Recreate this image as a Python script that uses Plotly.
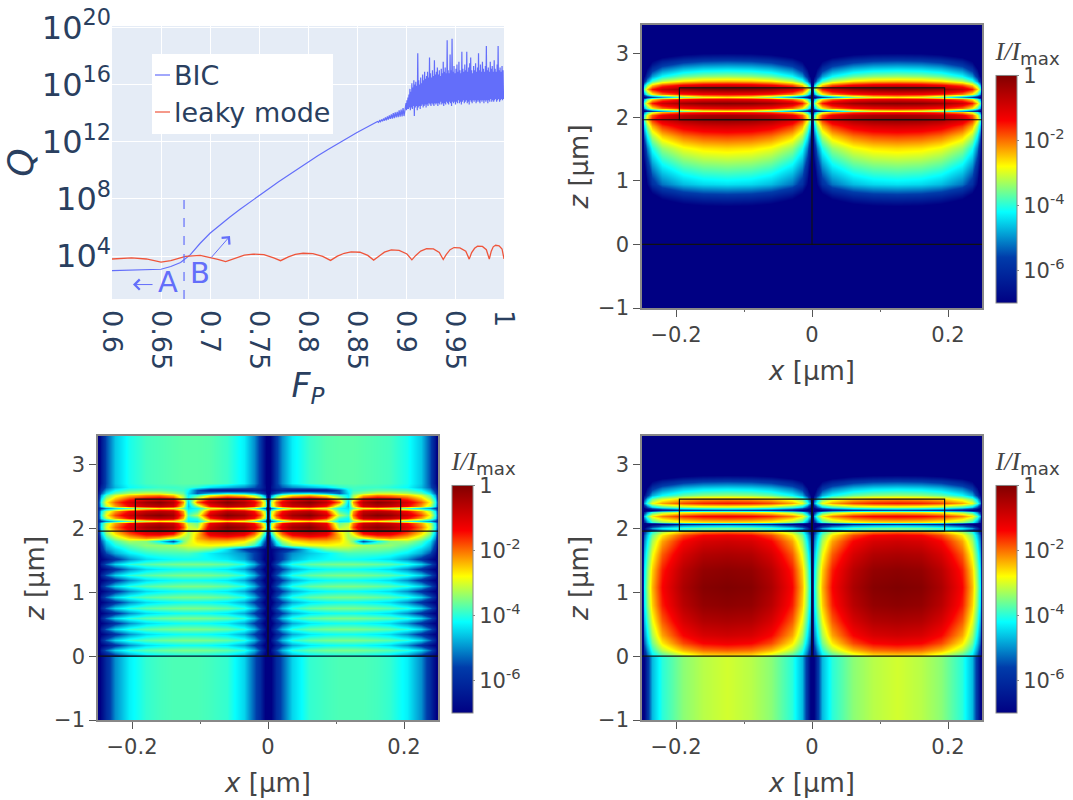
import plotly.graph_objects as go

# ---------- Q chart ----------
bic_fp = [0.6,0.62,0.64,0.65,0.66,0.67,0.68,0.69,0.70,0.71,0.72,0.73,0.74,0.75,0.76,0.77,0.78,0.79,0.80,0.81,0.82,0.83,0.84,0.85,0.86,0.87]
bic_logq = [2.98,3.0,3.03,3.08,3.27,3.55,4.1,4.9,5.6,6.17,6.72,7.24,7.75,8.24,8.72,9.2,9.67,10.13,10.58,11.02,11.45,11.87,12.27,12.65,13.02,13.35]
bic_onset_fp = [0.871,0.872,0.873,0.874,0.875,0.876,0.877,0.878,0.879,0.88,0.881,0.882,0.883,0.884,0.885,0.886,0.887,0.888,0.889,0.89,0.891,0.892,0.893,0.894,0.895,0.896,0.897,0.898,0.899]
bic_onset_logq = [13.42,13.36,13.48,13.4,13.55,13.44,13.62,13.48,13.7,13.5,13.78,13.55,13.85,13.6,13.92,13.62,14.0,13.65,14.05,13.7,14.1,13.72,14.2,13.75,14.25,13.78,14.35,13.8,14.45]
bic_noise_hi = [14.7,14.9,15.1,15.3,15.7,15.5,16.1,15.8,16.3,16.0,
 16.2,15.9,18.2,16.3,16.0,16.5,16.1,16.7,16.3,16.9,
 16.4,16.6,16.9,16.5,17.9,16.8,16.5,17.0,16.6,17.7,
 16.7,16.9,17.2,16.7,17.0,16.6,17.1,16.8,17.6,16.9,
 17.2,16.8,19.1,17.0,16.8,18.1,17.0,19.2,16.9,17.3,
 16.8,17.1,17.4,16.9,17.6,17.0,16.8,18.3,17.1,16.9,
 17.4,17.0,18.3,16.9,17.2,17.5,17.9,17.0,16.8,17.3,
 17.0,17.5,16.9,17.2,18.2,17.0,17.4,16.9,17.6,17.1,
 16.9,17.3,18.7,17.0,17.2,16.9,17.6,17.1,17.3,16.9,
 17.7,17.1,16.9,17.4,18.7,17.0,17.2,16.9,17.3,17.0]
bic_noise_lo = [14.2,14.3,14.3,14.4,14.2,14.4,14.3,14.5,13.8,14.4,
 14.5,14.2,14.4,14.5,14.3,14.5,14.6,14.4,14.5,14.6,
 14.4,14.6,14.5,14.7,14.6,14.5,14.7,14.6,14.5,14.7,
 14.6,14.7,14.5,14.7,14.6,14.8,14.6,14.7,14.5,14.7,
 14.6,14.8,14.7,14.6,14.8,14.7,14.5,14.8,14.7,14.8,
 14.6,14.8,14.7,14.9,14.7,14.8,14.6,14.8,14.9,14.7,
 14.8,14.9,14.7,14.8,14.6,14.9,14.8,14.7,14.9,14.8,
 14.9,14.7,14.8,14.9,14.8,14.7,14.9,14.8,14.9,14.7,
 14.9,14.8,14.9,14.7,14.9,14.8,15.0,14.8,14.9,14.8,
 14.9,15.0,14.8,14.9,15.0,14.8,14.9,15.0,14.9,15.0]
leaky_fp = [0.6,0.61,0.62,0.635,0.65,0.66,0.675,0.69,0.70,0.708,0.716,0.725,0.735,0.744,0.755,0.765,0.772,0.78,0.787,0.795,0.805,0.815,0.823,
 0.83,0.837,0.844,0.853,0.861,0.867,0.872,0.878,0.885,0.893,0.901,0.906,0.91,0.915,0.921,0.928,0.934,0.938,0.941,0.945,0.949,0.955,0.961,0.9645,
 0.967,0.97,0.973,0.978,0.982,0.985,0.987,0.989,0.9914,0.995,0.998,1.0]
leaky_logq = [3.8,3.85,3.88,3.8,3.58,3.68,3.98,4.05,3.92,3.78,3.62,3.85,4.07,4.14,4.1,3.88,3.68,3.95,4.12,4.2,4.17,3.98,3.7,
 4.0,4.2,4.3,4.27,4.05,3.72,3.98,4.28,4.43,4.4,4.15,3.74,4.05,4.35,4.52,4.5,4.25,3.76,4.1,4.45,4.6,4.58,4.35,3.79,
 4.25,4.55,4.7,4.68,4.45,3.79,4.35,4.65,4.76,4.72,4.5,3.8]

# ---------- field maps, values are log10(I/Imax) ----------
lobe_d = [0,0.003,0.007,0.015,0.03,0.06,0.09,0.125]

p1_z = [-1,0.5,0.6,0.95,1.24,1.52,1.7,1.86,1.97,2.03,2.075,2.1,2.14,2.22,2.28,2.32,2.36,2.44,2.5,2.57,2.65,2.78,2.88,2.99,3.05,3.45]
p1_rows = [
 [-9,-9,-9,-9,-9,-9,-9,-9],
 [-9,-9,-9,-9,-9,-9,-9,-9],
 [-9,-9,-9,-8.5,-7.8,-7.28,-7.07,-7],
 [-9,-8,-6.9,-5.9,-5.2,-4.68,-4.47,-4.4],
 [-9,-7.1,-6,-5,-4.3,-3.78,-3.57,-3.5],
 [-9,-6.2,-5.1,-4.1,-3.4,-2.88,-2.67,-2.6],
 [-9,-5.35,-4.25,-3.25,-2.55,-2.03,-1.82,-1.75],
 [-9,-4.5,-3.4,-2.4,-1.7,-1.18,-0.97,-0.9],
 [-9,-3.7,-2.6,-1.6,-0.9,-0.38,-0.17,-0.1],
 [-9,-4,-2.9,-1.9,-1.2,-0.68,-0.47,-0.4],
 [-9,-5.2,-4.1,-3.1,-2.4,-1.88,-1.67,-1.6],
 [-9,-7,-6.3,-5.6,-4.8,-3.6,-3,-2.8],
 [-9,-4.8,-3.7,-2.7,-2,-1.48,-1.27,-1.2],
 [-9,-3.65,-2.55,-1.55,-0.85,-0.33,-0.12,-0.05],
 [-9,-4.8,-3.7,-2.7,-2,-1.48,-1.27,-1.2],
 [-9,-7,-6.3,-5.6,-4.8,-3.6,-2.9,-2.7],
 [-9,-4.9,-3.8,-2.8,-2.1,-1.58,-1.37,-1.3],
 [-9,-3.6,-2.5,-1.5,-0.8,-0.28,-0.07,0],
 [-9,-4.6,-3.5,-2.5,-1.8,-1.28,-1.07,-1],
 [-9,-6,-4.9,-3.9,-3.2,-2.68,-2.47,-2.4],
 [-9,-7,-5.9,-4.9,-4.2,-3.68,-3.47,-3.4],
 [-9,-8.1,-7,-6,-5.3,-4.78,-4.57,-4.5],
 [-9,-9,-8,-7,-6.3,-5.78,-5.57,-5.5],
 [-9,-9,-9,-8.3,-7.6,-7.08,-6.87,-6.8],
 [-9,-9,-9,-9,-8.8,-8.28,-8.07,-8],
 [-9,-9,-9,-9,-9,-9,-9,-9],
]

p3_z = [-1,-0.02,0,0.1,0.2,0.33,0.55,0.8,1.08,1.35,1.6,1.8,1.9,1.95,1.965,1.98,2.01,2.05,2.07,2.11,2.19,2.26,2.295,2.33,2.4,2.47,2.53,2.63,2.74,2.84,2.9,3.45]
p3_rows = [
 [-9,-6.9,-5.9,-4.7,-4.0,-3.45,-3.2,-3.05],
 [-9,-6.9,-5.9,-4.7,-4.0,-3.45,-3.2,-3.05],
 [-9,-6.2,-5.4,-4.4,-3.9,-3.2,-2.75,-2.7],
 [-8.5,-5.8,-5,-4,-3.2,-2.4,-2,-1.9],
 [-8.5,-5.4,-4.6,-3.6,-2.7,-1.8,-1.4,-1.3],
 [-8.5,-5.1,-4.3,-3.3,-2.3,-1.4,-1,-0.9],
 [-8.3,-4.7,-3.9,-2.9,-1.9,-1,-0.58,-0.5],
 [-8,-4.35,-3.55,-2.55,-1.55,-0.65,-0.23,-0.15],
 [-8,-4.2,-3.4,-2.4,-1.4,-0.5,-0.08,0],
 [-8,-4.35,-3.55,-2.55,-1.55,-0.65,-0.23,-0.15],
 [-8.3,-4.7,-3.9,-2.9,-1.9,-1,-0.58,-0.5],
 [-8.5,-5.1,-4.3,-3.3,-2.3,-1.4,-1,-0.9],
 [-8.5,-5.4,-4.6,-3.6,-2.7,-1.8,-1.4,-1.3],
 [-8.5,-5.8,-5,-4,-3.2,-2.4,-2,-1.9],
 [-8.5,-6,-5.4,-4.6,-3.6,-2.7,-2.3,-2.2],
 [-9,-7,-6.5,-5.8,-5,-4.2,-3.8,-3.7],
 [-9,-6.9,-5.9,-4.9,-4.3,-3.78,-3.57,-3.5],
 [-9,-8,-7.4,-6.6,-5.8,-5.1,-4.9,-4.8],
 [-9,-8.5,-8,-7.5,-7,-6.3,-6.1,-6],
 [-9,-6,-5,-4,-3.4,-2.88,-2.67,-2.6],
 [-9,-4.7,-3.7,-2.7,-2.1,-1.58,-1.37,-1.3],
 [-9,-6,-5,-4,-3.4,-2.88,-2.67,-2.6],
 [-9,-8,-7.6,-7,-6.3,-5.8,-5.6,-5.5],
 [-9,-6.5,-5.5,-4.5,-3.9,-3.38,-3.17,-3.1],
 [-9,-4.9,-3.9,-2.9,-2.3,-1.78,-1.57,-1.5],
 [-9,-5.6,-4.6,-3.6,-3,-2.48,-2.27,-2.2],
 [-9,-6.8,-5.8,-4.8,-4.2,-3.68,-3.47,-3.4],
 [-9,-7.8,-6.8,-5.8,-5.2,-4.68,-4.47,-4.4],
 [-9,-9,-8,-7,-6.4,-5.88,-5.67,-5.6],
 [-9,-9,-9,-8.4,-7.8,-7.28,-7.07,-7],
 [-9,-9,-9,-9,-9,-9,-9,-9],
 [-9,-9,-9,-9,-9,-9,-9,-9],
]

p2_x = [-0.25,-0.245,-0.238,-0.225,-0.205,-0.18,-0.16,-0.14,-0.125,-0.117,-0.105,-0.085,-0.06,-0.035,-0.02,-0.012,-0.005,0]
p2_bot = [-7.5,-6.8,-6.0,-5.0,-4.3,-3.95,-3.85,-3.8,-3.8,-3.8,-3.8,-3.85,-3.95,-4.5,-5.4,-6.0,-7.0,-8]
p2_hi = [-7.5,-6.2,-5.3,-4.5,-4.0,-3.75,-3.65,-3.58,-3.55,-3.55,-3.55,-3.58,-3.7,-4.0,-4.7,-5.5,-6.6,-8]
p2_lo = [-7.5,-7,-6.6,-5.8,-5.0,-4.45,-4.3,-4.2,-4.15,-4.15,-4.15,-4.2,-4.35,-4.8,-5.6,-6.3,-7.2,-8]
p2_top = [-7.5,-6.5,-5.5,-4.6,-4.1,-3.85,-3.8,-3.75,-3.72,-3.72,-3.72,-3.75,-3.9,-4.3,-5.0,-5.7,-6.8,-8]
p2_z = [-1,-0.02,0,0.09,0.175,0.26,0.345,0.43,0.515,0.6,0.68,0.76,0.85,0.93,1.02,1.1,1.19,1.27,1.36,1.44,1.52,
        1.62,1.68,1.74,1.8,1.85,1.92,1.97,2.02,2.08,2.125,2.17,2.22,2.275,2.315,2.355,2.42,2.47,2.52,2.56,2.6,2.65,2.72,3.45]
p2_rows = [p2_bot,p2_bot,p2_lo,p2_hi,p2_lo,p2_hi,p2_lo,p2_hi,p2_lo,p2_hi,p2_lo,p2_hi,p2_lo,p2_hi,p2_lo,p2_hi,p2_lo,p2_hi,p2_lo,p2_hi,p2_lo,
 [-7.5,-6.5,-5.5,-4.8,-4.3,-4.0,-3.9,-3.85,-3.85,-3.85,-4.0,-4.3,-4.6,-5.0,-5.6,-6.3,-7,-8],
 [-7.5,-6,-5,-4.5,-4,-3.7,-3.6,-3.6,-3.5,-3.4,-3.4,-3.6,-4.4,-5.6,-6.2,-6.6,-7,-8],
 [-7.2,-5.7,-4.7,-4.1,-3.7,-3.4,-3.4,-3.3,-3.1,-3.0,-2.9,-2.8,-2.9,-3.2,-3.9,-4.7,-6,-8],
 [-7,-5.4,-4.4,-3.8,-3.3,-3.5,-4.2,-5.5,-3.6,-3.1,-2.6,-2.4,-2.4,-2.7,-3.3,-4.2,-5.5,-8],
 [-6.8,-5,-4,-3.3,-2.6,-2.2,-2.4,-3,-3.4,-3.3,-2.4,-1.9,-1.8,-2.1,-2.8,-3.6,-5,-8],
 [-6.5,-4.6,-3.5,-2.7,-1.9,-1.3,-1.2,-1.6,-2.8,-3.3,-2.5,-1.2,-0.9,-1.2,-2,-2.9,-4.2,-7.5],
 [-6.2,-4.4,-3.2,-2.3,-1.4,-0.7,-0.5,-0.9,-2.2,-3.2,-2.8,-0.8,-0.3,-0.7,-1.5,-2.4,-3.6,-7.5],
 [-6,-4.2,-3,-2,-1.1,-0.4,-0.15,-0.5,-1.8,-3.0,-3.3,-0.9,-0.05,-0.4,-1.1,-1.8,-3,-7],
 [-6,-4.3,-3.2,-2.3,-1.4,-0.85,-0.65,-0.9,-2.1,-3.3,-3.6,-1.3,-0.6,-0.9,-1.5,-2.3,-3.3,-7],
 [-6.3,-5.6,-5,-4.4,-3.8,-3.1,-2.7,-2.9,-3.4,-4.3,-4.4,-3.0,-2.6,-2.9,-3.6,-4.4,-5.2,-7.5],
 [-6,-4.3,-3.2,-2.3,-1.4,-0.8,-0.65,-0.8,-2.4,-4.2,-3.9,-1.6,-0.65,-0.9,-1.5,-2.3,-3.3,-7],
 [-6,-4,-2.8,-1.8,-0.9,-0.25,-0.05,-0.4,-2.0,-3.8,-3.2,-0.9,-0.05,-0.4,-1.1,-1.8,-3,-7],
 [-6,-4.3,-3.2,-2.3,-1.4,-0.8,-0.65,-0.8,-2.3,-4.2,-3.8,-1.5,-0.65,-0.9,-1.5,-2.3,-3.3,-7],
 [-6.3,-5.6,-5,-4.4,-3.8,-3.1,-2.7,-2.9,-3.6,-4.4,-4.2,-3.0,-2.6,-2.9,-3.6,-4.4,-5.2,-7.5],
 [-6,-4.3,-3.2,-2.3,-1.4,-0.85,-0.65,-1.0,-2.8,-4.6,-3.4,-1.5,-0.65,-0.9,-1.5,-2.3,-3.3,-7],
 [-6,-4,-2.8,-1.9,-1,-0.35,-0.1,-0.6,-2.2,-4.5,-2,-0.7,-0.05,-0.5,-1.2,-2,-3.2,-7],
 [-6.2,-4.3,-3.2,-2.4,-1.6,-1.1,-0.9,-1.3,-3,-4.2,-2.8,-1.4,-0.8,-1.2,-1.9,-2.7,-3.8,-7.5],
 [-6.5,-4.8,-3.8,-3,-2.5,-2.2,-2.1,-2.5,-3.4,-4.3,-3.9,-2.9,-2.4,-2.7,-3.3,-4,-5,-7.5],
 [-6.7,-5.4,-4.4,-3.7,-3.3,-3.1,-3.1,-3.4,-3.7,-4.4,-5.4,-4.8,-4.3,-4.5,-4.9,-5.5,-6.2,-8],
 [-7,-5.8,-4.9,-4.2,-3.8,-3.7,-3.7,-3.8,-3.9,-4.2,-5.4,-6.2,-6.4,-6.3,-6.2,-6.4,-6.8,-8],
 [-7.2,-6.2,-5.4,-4.7,-4.2,-4,-3.9,-3.9,-3.85,-3.9,-4.0,-4.4,-4.7,-5,-5.4,-5.9,-6.6,-8],
 p2_top,p2_top]

cb_ticks = [-6,-4,-2,0]
cb_labels = ['10<sup>-6</sup>','10<sup>-4</sup>','10<sup>-2</sup>','1']
x_ticks = [-0.2,0,0.2]
x_labels = ['\u22120.2','0','0.2']
x_minor = [-0.1,0.1]
z_ticks = [-1,0,1,2,3]
fp_ticks = [0.6,0.65,0.7,0.75,0.8,0.85,0.9,0.95,1]
fp_labels = ['0.6','0.65','0.7','0.75','0.8','0.85','0.9','0.95','1']
q_ticks = [1e4,1e8,1e12,1e16,1e20]
q_labels = ['10<sup>4</sup>','10<sup>8</sup>','10<sup>12</sup>','10<sup>16</sup>','10<sup>20</sup>']

W, H = 1073, 800
FONT = 'DejaVu Sans'
BLUE, RED = '#636efa', '#EF553B'
GREY = '#444444'
def fx(p): return p / W
def fy(p): return 1 - p / H

def mirror_x(xs): return list(xs) + [-v for v in reversed(xs[:-1])]
def mirror_row(r): return list(r) + list(reversed(r[:-1]))
lobe_half = [-0.25 + d for d in lobe_d] + [-d for d in reversed(lobe_d[:-1])]
lobe_x = mirror_x(lobe_half)
def lobe_grid(rows): return [mirror_row(mirror_row(r)) for r in rows]

fig = go.Figure()

bic_x = list(bic_fp) + list(bic_onset_fp)
bic_y = list(bic_logq) + list(bic_onset_logq)
for i, (h, l) in enumerate(zip(bic_noise_hi, bic_noise_lo)):
    bic_x += [0.9 + 0.001 * i, 0.9005 + 0.001 * i]
    bic_y += [h, l]
fig.add_trace(go.Scatter(x=bic_x, y=[10 ** v for v in bic_y], mode='lines', name='BIC',
                         line=dict(color=BLUE, width=1.2), xaxis='x', yaxis='y', showlegend=False))
fig.add_trace(go.Scatter(x=leaky_fp, y=[10 ** v for v in leaky_logq], mode='lines', name='leaky mode',
                         line=dict(color=RED, width=1.3), xaxis='x', yaxis='y', showlegend=False))
fig.add_trace(go.Scatter(x=[0.6735, 0.6735], y=[10, 1e8], mode='lines', showlegend=False,
                         line=dict(color=BLUE, width=1.2, dash='dash'), xaxis='x', yaxis='y'))

CB = {'tr': (996, 38, 265), 'bl': (452, 448, 265), 'br': (996, 448, 265)}
def heat(x, z, grid, ax, key):
    cx, cy, ch = CB[key]
    fig.add_trace(go.Heatmap(
        x=x, y=z, z=grid, zmin=-7, zmax=0, zsmooth='best', colorscale='Jet',
        xaxis='x' + ax, yaxis='y' + ax,
        colorbar=dict(
            x=fx(cx), xanchor='left', xref='paper', y=fy(cy), yanchor='top', yref='paper',
            len=ch, lenmode='pixels', thickness=21, thicknessmode='pixels', xpad=0, ypad=0,
            outlinecolor='#888888', outlinewidth=1, tickvals=cb_ticks, ticktext=cb_labels,
            ticks='outside', ticklen=2, tickcolor='#888888',
            tickfont=dict(family=FONT, size=21, color=GREY),
            title=dict(text='<span style="font-family:Liberation Serif"><i>I/I</i></span><sub>max</sub>',
                       side='top', font=dict(family=FONT, size=26, color=GREY)))))

heat(lobe_x, p1_z, lobe_grid(p1_rows), '2', 'tr')
heat(mirror_x(p2_x), p2_z, [mirror_row(r) for r in p2_rows], '3', 'bl')
heat(lobe_x, p3_z, lobe_grid(p3_rows), '4', 'br')

layout = dict(
    width=W, height=H, margin=dict(l=0, r=0, t=0, b=0, autoexpand=False),
    paper_bgcolor='white', plot_bgcolor='#E5ECF6', showlegend=False, font=dict(family=FONT),
    xaxis=dict(domain=[fx(112), fx(504)], range=[0.6, 1.0], tickvals=fp_ticks, ticktext=fp_labels, tickangle=90,
               gridcolor='white', zeroline=False, showline=False, ticks='', anchor='y', automargin=True, ticklabelstandoff=10,
               tickfont=dict(family=FONT, size=27, color='#2a3f5f'),
               title=dict(text='<i>F<sub>P</sub></i>', font=dict(family=FONT, size=33, color='#2a3f5f'), standoff=4)),
    yaxis=dict(domain=[fy(299), fy(26)], type='log', range=[1, 20.1], tickvals=q_ticks, ticktext=q_labels,
               gridcolor='white', zeroline=False, showline=False, ticks='', anchor='x', automargin=True,
               tickfont=dict(family=FONT, size=32, color='#2a3f5f'),
               title=dict(text='<i>Q</i>', font=dict(family=FONT, size=36, color='#2a3f5f'), standoff=0)),
)
DOMS = {'2': (642, 982, 25, 308), '3': (98, 438, 436, 720), '4': (642, 982, 436, 720)}
for k, (l, r, t, b) in DOMS.items():
    common = dict(showline=True, mirror=True, linecolor='#888888', linewidth=1.5, showgrid=False, zeroline=False,
                  automargin=True, ticks='outside', ticklen=7, tickcolor='#555555',
                  tickfont=dict(family=FONT, size=21, color=GREY))
    layout['xaxis' + k] = dict(domain=[fx(l), fx(r)], range=[-0.25, 0.25], tickvals=x_ticks, ticktext=x_labels,
                               minor=dict(tickvals=x_minor, ticks='outside', ticklen=2, tickcolor='#666666'),
                               anchor='y' + k, title=dict(text='<i>x</i> [\u00b5m]', font=dict(family=FONT, size=26, color=GREY), standoff=16), **common)
    layout['yaxis' + k] = dict(domain=[fy(b), fy(t)], range=[-1, 3.45], tickvals=z_ticks,
                               anchor='x' + k, title=dict(text='<i>z</i> [\u00b5m]', font=dict(family=FONT, size=26, color=GREY), standoff=2), **common)

shapes = []
for k in DOMS:
    ln = dict(color='#111111', width=1.2)
    ref = dict(xref='x' + k, yref='y' + k, line=ln, layer='above')
    shapes += [dict(type='rect', x0=-0.195, x1=0, y0=1.96, y1=2.46, **ref),
               dict(type='rect', x0=0, x1=0.195, y0=1.96, y1=2.46, **ref),
               dict(type='line', x0=-0.25, x1=0.25, y0=1.96, y1=1.96, **ref),
               dict(type='line', x0=-0.25, x1=0.25, y0=0, y1=0, **ref),
               dict(type='line', x0=0, x1=0, y0=0, y1=1.96, **ref)]
shapes += [dict(type='rect', xref='paper', yref='paper', x0=fx(152), x1=fx(333), y0=fy(134), y1=fy(54),
                fillcolor='white', line=dict(width=0), layer='above'),
           dict(type='line', xref='paper', yref='paper', x0=fx(155), x1=fx(170), y0=fy(75), y1=fy(75),
                line=dict(color=BLUE, width=1.2)),
           dict(type='line', xref='paper', yref='paper', x0=fx(155), x1=fx(170), y0=fy(112), y1=fy(112),
                line=dict(color=RED, width=1.2))]
layout['shapes'] = shapes

ann = [
    dict(xref='paper', yref='paper', x=fx(172), y=fy(75), text='BIC', showarrow=False, xanchor='left', yanchor='middle',
         font=dict(family=FONT, size=27, color='#2a3f5f')),
    dict(xref='paper', yref='paper', x=fx(172), y=fy(112), text='leaky mode', showarrow=False, xanchor='left', yanchor='middle',
         font=dict(family=FONT, size=27, color='#2a3f5f')),
    dict(xref='x', yref='y', x=0.657, y=2.2, text='A', showarrow=False, font=dict(family=FONT, size=29, color=BLUE)),
    dict(xref='x', yref='y', x=0.69, y=2.85, text='B', showarrow=False, font=dict(family=FONT, size=29, color=BLUE)),
    dict(xref='x', yref='y', axref='x', ayref='y', x=0.6214, y=2.01, ax=0.6429, ay=2.01, text='', showarrow=True,
         arrowhead=4, arrowsize=2, arrowwidth=1, arrowcolor=BLUE),
    dict(xref='x', yref='y', axref='x', ayref='y', x=0.7204, y=5.4, ax=0.7, ay=3.8, text='', showarrow=True,
         arrowhead=4, arrowsize=2, arrowwidth=1, arrowcolor=BLUE),
]
layout['annotations'] = ann
fig.update_layout(**layout)
fig.write_html('out.html', config=dict(displayModeBar=False), post_script="document.body.style.margin='0';")
